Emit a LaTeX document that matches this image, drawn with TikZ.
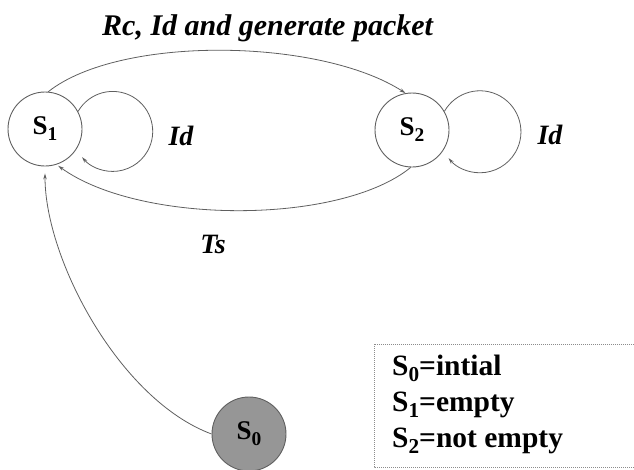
\documentclass[tikz,border=0pt]{standalone}
\usepackage{fontspec}
\usepackage{graphicx}
\setmainfont{Liberation Serif}
\usetikzlibrary{arrows.meta}
\definecolor{edgegray}{RGB}{95,95,95}
\definecolor{s0fill}{RGB}{150,150,150}
\definecolor{boxgray}{RGB}{140,140,140}
\newcommand\sbs[1]{\raisebox{-0.22em}{\scalebox{0.72}{#1}}}
\tikzset{
  state/.style={circle, draw=edgegray, line width=0.9pt, minimum size=74pt, inner sep=0pt,
    font=\fontsize{27}{30}\selectfont\bfseries},
  arr/.style={draw=edgegray, line width=0.8pt, -{Stealth[length=6pt,width=3.5pt]}},
  lbl/.style={font=\fontsize{28}{30}\selectfont\bfseries\itshape, inner sep=0pt},
  leg/.style={font=\fontsize{29.5}{36}\selectfont\bfseries, inner sep=0pt, anchor=base west},
  legbox/.style={draw=boxgray, line width=1pt, densely dotted}
}
\begin{document}
\begin{tikzpicture}[x=1pt,y=1pt]
\useasboundingbox (0,0) rectangle (634,-469);
% states
\node[state] (S1) at (45,-129) {S\sbs{1}};
\node[state] (S2) at (412,-130) {S\sbs{2}};
\node[state, fill=s0fill] (S0) at (249,-434) {S\sbs{0}};
% top arc
\draw[arr] (S1.85) .. controls (120,-35) and (320,-38) .. (S2.100);
\node[lbl, font=\fontsize{30}{34}\selectfont\bfseries\itshape, anchor=base west] (toplbl) at (102,-35) {Rc, Id and generate packet};
% bottom arc
\draw[arr, shorten >=2pt] (S2.-92) .. controls (340,-225) and (140,-225) .. (S1.-72);
\node[lbl] (ts) at (213,-244) {Ts};
% self loops
\draw[arr] (S1.28) arc[start angle=150, end angle=-140, radius=40];
\node[lbl] (id1) at (181,-136) {Id};
\draw[arr] (S2.30) arc[start angle=150, end angle=-140, radius=41];
\node[lbl] (id2) at (550,-135) {Id};
% S0 to S1
\draw[arr, shorten >=7pt] (S0.180) .. controls (120,-400) and (45,-260) .. (S1.-90);
% legend
\coordinate (bTR) at (634,-344);
\coordinate (bTL) at (374,-344);
\coordinate (bBL) at (374,-467);
\coordinate (bBR) at (634,-467);
\draw[legbox] (bTR) -- (bTL) -- (bBL) -- (bBR);
\node[leg] (L0) at (392,-375) {S\sbs{0}=intial};
\node[leg] (L1) at (392,-411) {S\sbs{1}=empty};
\node[leg] (L2) at (392,-447) {S\sbs{2}=not empty};
\end{tikzpicture}
\end{document}
